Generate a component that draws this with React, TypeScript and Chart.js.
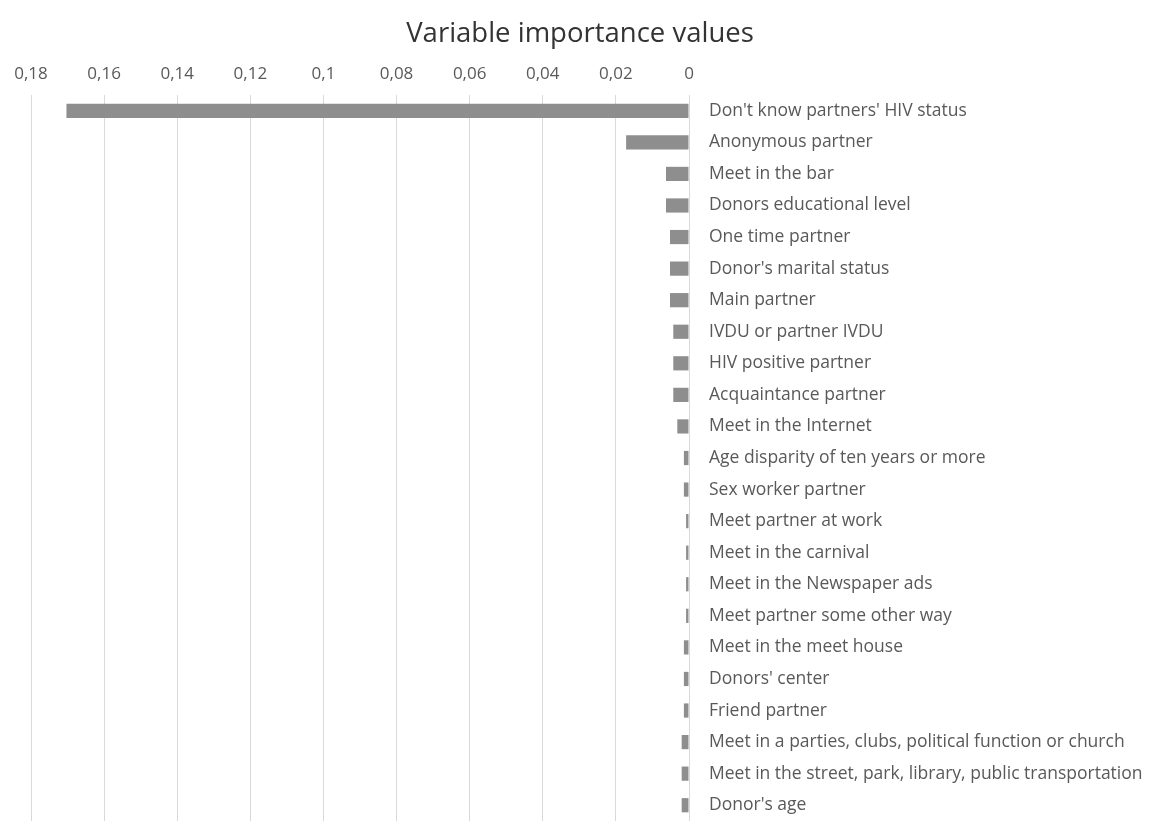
import React, { useEffect, useRef } from "react";
import { Chart, registerables } from "chart.js";

Chart.register(...registerables);

const categories: string[] = [
  "Don't know partners' HIV status",
  "Anonymous partner",
  "Meet in the bar",
  "Donors educational level",
  "One time partner",
  "Donor's marital status",
  "Main partner",
  "IVDU or partner IVDU",
  "HIV positive partner",
  "Acquaintance partner",
  "Meet in the Internet",
  "Age disparity of ten years or more",
  "Sex worker partner",
  "Meet partner at work",
  "Meet in the carnival",
  "Meet in the Newspaper ads",
  "Meet partner some other way",
  "Meet in the meet house",
  "Donors' center",
  "Friend partner",
  "Meet in a parties, clubs, political function or church",
  "Meet in the street, park, library, public transportation",
  "Donor's age",
];

const importance: number[] = [
  0.1703, 0.0172, 0.0063, 0.0063, 0.0052, 0.0052, 0.0052, 0.0043, 0.0043,
  0.0043, 0.0032, 0.0014, 0.0014, 0.0008, 0.0008, 0.0008, 0.0008, 0.0014,
  0.0014, 0.0014, 0.002, 0.002, 0.002,
];

const xTickMin = 0;
const xTickMax = 0.18;
const xTickStep = 0.02;

const chartTitle = "Variable importance values";

export default function App() {
  const canvasRef = useRef<HTMLCanvasElement | null>(null);

  useEffect(() => {
    document.body.style.margin = "0";
    const canvas = canvasRef.current;
    if (!canvas) return;
    const chart = new Chart(canvas, {
      type: "bar",
      data: {
        labels: categories,
        datasets: [
          {
            data: importance,
            backgroundColor: "#8e8e8e",
            borderWidth: 0,
            categoryPercentage: 1,
            barPercentage: 0.45,
          },
        ],
      },
      options: {
        indexAxis: "y",
        animation: false,
        responsive: false,
        maintainAspectRatio: false,
        layout: { padding: { left: 0, right: 0, top: 0, bottom: -2 } },
        plugins: {
          legend: { display: false },
          tooltip: { enabled: false },
          title: {
            display: true,
            text: chartTitle,
            color: "#333333",
            font: { family: "'Open Sans'", size: 27.5, weight: "normal" },
            padding: { top: 17.5, bottom: 4.5 },
          },
        },
        scales: {
          x: {
            type: "linear",
            position: "top",
            reverse: true,
            min: xTickMin,
            max: xTickMax,
            grid: { color: "#d9d9d9", drawTicks: false, lineWidth: 1 },
            border: { display: false },
            ticks: {
              stepSize: xTickStep,
              color: "#595959",
              padding: 11,
              font: { family: "'Open Sans'", size: 17 },
              callback: (v: any) =>
                String(Number(Number(v).toFixed(2))).replace(".", ","),
            },
            afterFit: (scale: any) => {
              scale.height = 40;
              scale.paddingLeft = 31;
              scale.paddingRight = 0;
            },
          },
          y: {
            position: "right",
            grid: { display: false },
            border: { display: true, color: "#d9d9d9" },
            ticks: {
              color: "#595959",
              padding: 12,
              crossAlign: "near",
              autoSkip: false,
              font: { family: "'Open Sans'", size: 17.5 },
            },
            afterFit: (scale: any) => {
              scale.width = 471;
              scale.paddingTop = 0;
              scale.paddingBottom = 0;
            },
          },
        },
      },
    });
    return () => chart.destroy();
  }, []);

  return (
    <div style={{ width: 1160, height: 821 }}>
      <canvas ref={canvasRef} width={1160} height={821} style={{ display: "block" }} />
    </div>
  );
}
